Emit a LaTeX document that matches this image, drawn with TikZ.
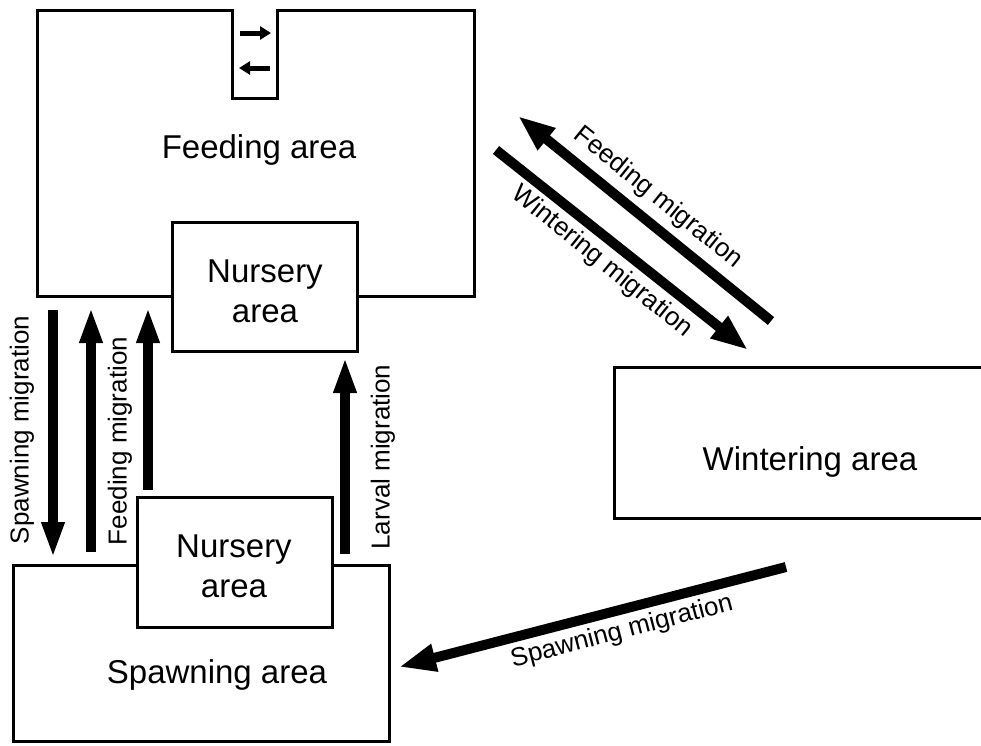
\documentclass[tikz,border=0pt]{standalone}
\usepackage{fontspec}
\setmainfont{Liberation Sans}
\usetikzlibrary{arrows.meta}
\begin{document}
\begin{tikzpicture}[x=1pt,y=-1pt,
  areabox/.style={draw=black,line width=3pt,fill=white,inner sep=0pt,outer sep=0pt},
  bigtxt/.style={font=\fontsize{33}{40}\selectfont,align=center,inner sep=0pt},
  migtxt/.style={font=\fontsize{26}{30}\selectfont,inner sep=0pt},
  bigarrow/.style={line width=10pt,-{Triangle[width=21pt,length=36pt]}},
  diagarrow/.style={line width=10pt,-{Triangle[width=26pt,length=37pt]}},
  smallarrow/.style={line width=5pt,-{Triangle[width=13pt,length=11pt]}}]
\useasboundingbox (0,0) rectangle (981,745);
% Feeding area outline
\draw[line width=3pt,line join=miter] (37,10) -- (232,10) -- (232,98) -- (277,98) -- (277,10)
  -- (474,10) -- (474,296) -- (37,296) -- cycle;
\node[bigtxt] (feedlbl) at (259,150) {Feeding area};
% notch arrows
\coordinate (n1a) at (240,33); \coordinate (n1b) at (271,33);
\coordinate (n2a) at (270,68); \coordinate (n2b) at (239,68);
\draw[smallarrow] (n1a) -- (n1b);
\draw[smallarrow] (n2a) -- (n2b);
% Nursery (top)
\node[areabox,minimum width=185pt,minimum height=129pt] (nurT) at (264.5,286.5) {};
\node[bigtxt] (nurTlbl) at (265,291) {Nursery\\area};
% Spawning area
\node[areabox,minimum width=376pt,minimum height=176pt] (spawn) at (201,653) {};
\node[bigtxt] (spawnlbl) at (217,675) {Spawning area};
% Nursery (bottom)
\node[areabox,minimum width=195pt,minimum height=130pt] (nurB) at (234.5,562) {};
\node[bigtxt] (nurBlbl) at (234,566) {Nursery\\area};
% Wintering area (open at right edge)
\draw[line width=3pt,line join=miter] (983,367) -- (614,367) -- (614,518) -- (983,518);
\node[bigtxt] (wintlbl) at (810,462) {Wintering area};
% vertical arrows
\coordinate (s1) at (53,310); \coordinate (s2) at (53,558);
\coordinate (f1) at (91,552); \coordinate (f2) at (91,307);
\coordinate (f3) at (148,490); \coordinate (f4) at (148,307);
\coordinate (l1) at (345,554); \coordinate (l2) at (345,357);
\draw[bigarrow] (s1) -- (s2);
\draw[bigarrow] (f1) -- (f2);
\draw[bigarrow] (f3) -- (f4);
\draw[bigarrow] (l1) -- (l2);
\node[migtxt,rotate=90] (spmlbl) at (22,430) {Spawning migration};
\node[migtxt,rotate=90] (fmlbl) at (120,441) {Feeding migration};
\node[migtxt,rotate=90] (lmlbl) at (383,457) {Larval migration};
% diagonal arrows
\coordinate (d1) at (771,321); \coordinate (d2) at (518,116);
\coordinate (d3) at (496,150); \coordinate (d4) at (748,350);
\coordinate (d5) at (786,567); \coordinate (d6) at (399,667);
\draw[diagarrow] (d1) -- (d2);
\draw[diagarrow] (d3) -- (d4);
\draw[diagarrow] (d5) -- (d6);
\node[migtxt,rotate=-39] (dfml) at (658,198) {Feeding migration};
\node[migtxt,rotate=-39] (dwml) at (602,262) {Wintering migration};
\node[migtxt,rotate=14.6] (dsml) at (622,632) {Spawning migration};
\end{tikzpicture}
\end{document}
